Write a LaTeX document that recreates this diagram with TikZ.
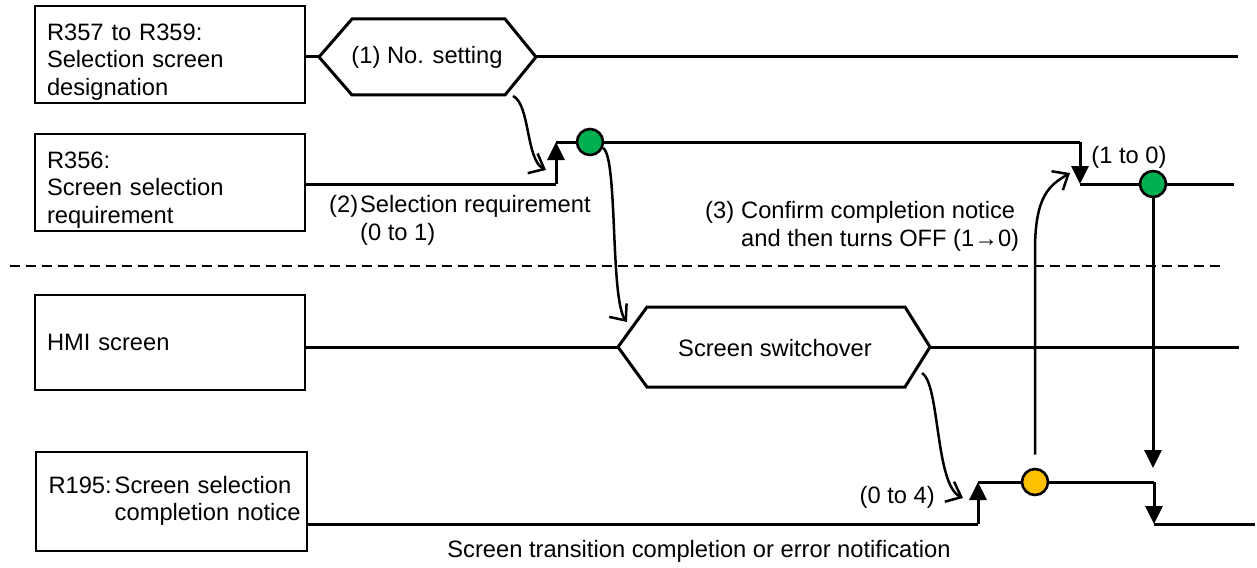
\documentclass[tikz,border=0pt]{standalone}
\usepackage{fontspec}
\setmainfont{Liberation Sans}
\usetikzlibrary{arrows.meta, positioning}
\definecolor{dotgreen}{RGB}{0,176,80}
\definecolor{dotorange}{RGB}{255,192,0}

\begin{document}
\begin{tikzpicture}[x=1pt, y=-1pt, font=\fontsize{23.7}{27.5}\selectfont,
   regbox/.style={draw, line width=1.8pt, minimum width=270pt, minimum height=95pt,
                  text width=246pt, align=left, inner xsep=12pt},
   wave/.style={line width=3pt},
   flow/.style={line width=2.5pt, -{Straight Barb[length=13pt,width=22pt]}},
   edgetip/.style={-{Triangle[length=18pt,width=17pt]}},
   dot/.style={circle, draw, line width=2.6pt, minimum size=26pt, inner sep=0pt},
   note/.style={inner sep=0pt}]
   \useasboundingbox (0,0) rectangle (1257,567);

   % signal names
   \node[regbox] (r_sel) at (170,54.5) {\rule{0pt}{31pt}R357 to R359:\\Selection screen\\designation};
   \node[regbox] (r_req) at (170,182.5) {\rule{0pt}{31pt}R356:\\Screen selection\\requirement};
   \node[regbox] (hmi) at (170,342.5) {HMI screen};
   \node[regbox, minimum width=271pt, minimum height=99pt] (r_done) at (171.5,501.5)
      {\begin{tabular}{@{}l@{\hspace{3pt}}l@{}}R195: & Screen selection\\ & completion notice\end{tabular}};

   % separation PLC / HMI
   \coordinate (d_l) at (10,266);
   \coordinate (d_r) at (1226,266);
   \draw[line width=2.5pt, dash pattern=on 10pt off 6pt] (d_l) -- (d_r);

   % (1) number setting
   \coordinate (s1_w) at (319,57);
   \coordinate (s1_e) at (536,57);
   \coordinate (s1_end) at (1238,57);
   \node[note] (hex_set) at (427,57) {(1) No. setting};
   \draw[wave] (r_sel.east |- s1_w) -- (s1_w);
   \draw[wave] (s1_w) -- ++(33,-38) -- ++(153,0) -- (s1_e) -- ++(-31,38) -- ++(-153,0) -- cycle;
   \draw[wave] (s1_e) -- (s1_end);

   % (2) selection requirement
   \coordinate (s2_up) at (556,184);
   \coordinate (s2_hi) at (556,142);
   \coordinate (s2_dn) at (1080,142);
   \coordinate (s2_lo) at (1080,184);
   \coordinate (s2_end) at (1234,184);
   \node[dot, fill=dotgreen] (c_req) at (590,142) {};
   \node[dot, fill=dotgreen] (c_off) at (1153,184) {};
   \draw[wave] (r_req.east |- s2_up) -- (s2_up);
   \draw[wave, edgetip] (s2_up) -- (s2_hi);
   \draw[wave] (s2_hi) -- (c_req.west);
   \draw[wave] (c_req.east) -- (s2_dn);
   \draw[wave, edgetip] (s2_dn) -- (s2_lo);
   \draw[wave] (s2_lo) -- (c_off.west);
   \draw[wave] (c_off.east) -- (s2_end);

   % HMI screen
   \coordinate (s3_w) at (618,347);
   \coordinate (s3_e) at (930,347);
   \coordinate (s3_end) at (1239,347);
   \node[note] (hex_sw) at (775,348) {Screen switchover};
   \draw[wave] (hmi.east |- s3_w) -- (s3_w);
   \draw[wave] (s3_w) -- ++(29,-40) -- ++(258,0) -- (s3_e) -- ++(-25,40) -- ++(-258,0) -- cycle;
   \draw[wave] (s3_e) -- (s3_end);

   % completion notice
   \coordinate (s4_up) at (978,524);
   \coordinate (s4_hi) at (978,482);
   \coordinate (s4_dn) at (1154,482);
   \coordinate (s4_lo) at (1154,524);
   \coordinate (s4_end) at (1255,524);
   \coordinate (off_tip) at (1153,468);
   \node[dot, fill=dotorange] (c_done) at (1035,482) {};
   \draw[wave] (r_done.east |- s4_up) -- (s4_up);
   \draw[wave, edgetip] (s4_up) -- (s4_hi);
   \draw[wave] (s4_hi) -- (c_done.west);
   \draw[wave] (c_done.east) -- (s4_dn);
   \draw[wave, edgetip] (s4_dn) -- (s4_lo);
   \draw[wave] (s4_lo) -- (s4_end);
   \draw[wave, edgetip] (c_off.south) -- (off_tip);

   % cause -> effect
   \coordinate (f1_s) at (513,96);
   \coordinate (f1_t) at (546,170);
   \coordinate (f3_s) at (922,373);
   \coordinate (f3_t) at (963,498);
   \coordinate (f2_t) at (627,322);
   \coordinate (f4_t) at (1070,173);
   \draw[flow] (f1_s) .. controls (530,104) and (526,160) .. (f1_t);
   \draw[flow] (c_req.-25) .. controls (618,156) and (610,300) .. (f2_t);
   \draw[flow] (f3_s) .. controls (940,384) and (935,485) .. (f3_t);
   \draw[flow, shorten <=13pt] (c_done.north) -- (1035,250) .. controls (1035,195) and (1050,185) .. (f4_t);

   % labels
   \node[note, anchor=west] (lbl_req) at (329,221)
      {\begin{tabular}{@{}l@{\hspace{2pt}}l@{}}(2) & Selection requirement\\ & (0 to 1)\end{tabular}};
   \node[note, anchor=west] (lbl_off) at (705,227)
      {\begin{tabular}{@{}l@{\hspace{7pt}}l@{}}(3) & Confirm completion notice\\ & and then turns OFF (1→0)\end{tabular}};
   \node[note] (lbl_10) at (1129,157) {(1 to 0)};
   \node[note, anchor=east] (lbl_04) at (935,497) {(0 to 4)};
   \node[note] (lbl_bot) at (699,551) {Screen transition completion or error notification};
\end{tikzpicture}
\end{document}
